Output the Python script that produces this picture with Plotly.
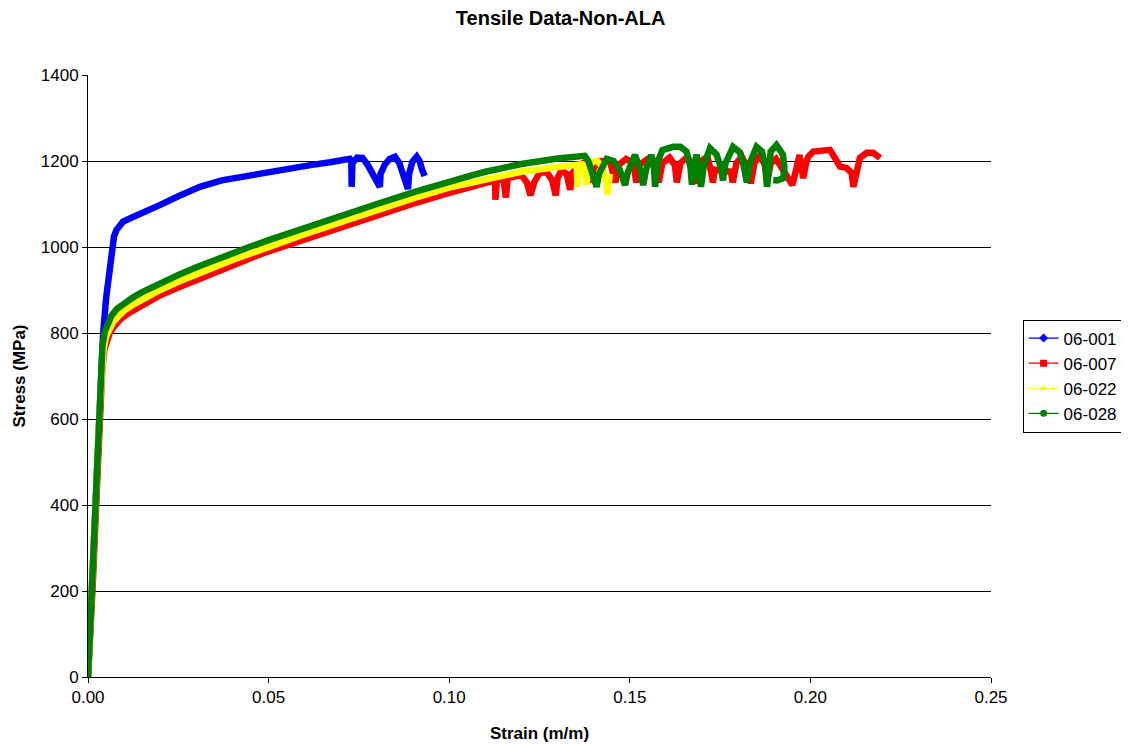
import plotly.graph_objects as go

# ---- data ----
series_names = ["06-001", "06-007", "06-022", "06-028"]
series_colors = ["#0000FF", "#FF0000", "#FFFF00", "#008000"]
series_symbols = ["diamond", "square", "triangle-up", "circle"]

x_001 = [0, 0.0006, 0.0012, 0.002, 0.0028, 0.0036, 0.0042, 0.005, 0.0056, 0.0062, 0.0066, 0.0072,
         0.0079, 0.0088, 0.0097, 0.012, 0.0162, 0.02, 0.025, 0.031, 0.037, 0.044, 0.05, 0.056, 0.062,
         0.067, 0.07, 0.0725, 0.0729, 0.0730, 0.0732, 0.0745, 0.0760, 0.0775, 0.0795, 0.0808, 0.0810,
         0.0822, 0.0835, 0.0850, 0.0862, 0.0875, 0.0886, 0.0889, 0.0898, 0.0910, 0.0918, 0.0925, 0.0932]
y_001 = [0, 120, 250, 420, 580, 720, 800, 880, 925, 965, 1000, 1025,
         1040, 1052, 1059, 1068, 1082, 1098, 1118, 1140, 1155, 1166, 1175, 1184, 1191,
         1197, 1200, 1205, 1200, 1140, 1195, 1208, 1207, 1190, 1160, 1140, 1170,
         1192, 1205, 1210, 1195, 1165, 1135, 1170, 1198, 1210, 1200, 1180, 1165]

x_007 = [0, 0.0007, 0.0014, 0.0021, 0.0028, 0.0034, 0.0039, 0.0045, 0.0052, 0.006, 0.0075, 0.009,
         0.011, 0.0135, 0.016, 0.02, 0.025, 0.03, 0.035, 0.04, 0.045, 0.05, 0.06, 0.07, 0.08, 0.09,
         0.1, 0.105, 0.11, 0.1127, 0.1128, 0.1132, 0.115, 0.1157, 0.1162, 0.12, 0.1215, 0.1225, 0.1235,
         0.125, 0.127, 0.1285, 0.1295, 0.13, 0.131, 0.1325, 0.1335, 0.134, 0.1355, 0.137, 0.1385,
         0.1395, 0.14, 0.142, 0.1445, 0.1455, 0.146, 0.1468, 0.149, 0.151, 0.1518, 0.1525, 0.155,
         0.157, 0.158, 0.159, 0.161, 0.1625, 0.163, 0.164, 0.166, 0.1675, 0.168, 0.169, 0.1715,
         0.1725, 0.173, 0.1735, 0.178, 0.1785, 0.1795, 0.181, 0.1828, 0.1835, 0.1845, 0.186, 0.1875,
         0.188, 0.189, 0.1905, 0.192, 0.1934, 0.195, 0.1962, 0.197, 0.1975, 0.198, 0.1988, 0.1994,
         0.2008, 0.2036, 0.2054, 0.2068, 0.2082, 0.21, 0.2114, 0.2119, 0.2128, 0.2137, 0.2156, 0.2174,
         0.2193]
y_007 = [0, 100, 230, 370, 510, 630, 710, 760, 785, 800, 818, 832,
         845, 858, 870, 888, 906, 924, 941, 957, 974, 990, 1018, 1046, 1074, 1101,
         1126, 1138, 1148, 1155, 1110, 1155, 1160, 1115, 1160, 1167, 1150, 1120, 1150,
         1172, 1175, 1155, 1120, 1160, 1178, 1170, 1133, 1170, 1190, 1195, 1185,
         1150, 1185, 1200, 1200, 1160, 1150, 1190, 1205, 1195, 1150, 1190, 1205,
         1200, 1150, 1195, 1208, 1190, 1150, 1195, 1210, 1180, 1148, 1195, 1210,
         1175, 1150, 1180, 1175, 1150, 1195, 1210, 1180, 1148, 1195, 1212, 1190,
         1150, 1195, 1205, 1185, 1160, 1144, 1185, 1214, 1190, 1160, 1195, 1210,
         1222, 1226, 1226, 1207, 1187, 1184, 1172, 1140, 1175, 1207, 1219, 1219,
         1207]

x_022 = [0, 0.0006, 0.0012, 0.0019, 0.0026, 0.0032, 0.0037, 0.0043, 0.005, 0.006, 0.007, 0.0085,
         0.01, 0.0125, 0.015, 0.02, 0.025, 0.03, 0.035, 0.04, 0.045, 0.05, 0.06, 0.07, 0.08, 0.09,
         0.1, 0.106, 0.11, 0.12, 0.13, 0.1353, 0.1355, 0.1358, 0.1368, 0.1375, 0.138, 0.1385, 0.1395,
         0.141, 0.1425, 0.1435, 0.1438, 0.1442, 0.1445]
y_022 = [0, 100, 220, 360, 500, 620, 700, 760, 792, 812, 826, 840,
         852, 866, 878, 900, 919, 937, 954, 970, 985, 1001, 1030, 1058, 1086, 1113,
         1138, 1150, 1158, 1175, 1186, 1191, 1140, 1185, 1196, 1180, 1145, 1180, 1198,
         1200, 1185, 1150, 1122, 1150, 1170]

x_028 = [0, 0.0005, 0.001, 0.0017, 0.0024, 0.003, 0.0035, 0.004, 0.0047, 0.0055, 0.0065, 0.008,
         0.01, 0.0125, 0.015, 0.02, 0.025, 0.03, 0.035, 0.04, 0.045, 0.05, 0.06, 0.07, 0.08, 0.09,
         0.1, 0.106, 0.11, 0.12, 0.13, 0.1362, 0.1375, 0.1385, 0.1398, 0.1408, 0.1415, 0.1436, 0.1455,
         0.1472, 0.1487, 0.1495, 0.1514, 0.1527, 0.1537, 0.1545, 0.156, 0.1567, 0.157, 0.1578, 0.159,
         0.162, 0.164, 0.1657, 0.1668, 0.1672, 0.1678, 0.1685, 0.1692, 0.1697, 0.1705, 0.1722, 0.174,
         0.1752, 0.1758, 0.1765, 0.1786, 0.1805, 0.1815, 0.1824, 0.1832, 0.1851, 0.1866, 0.1875,
         0.188, 0.1885, 0.189, 0.1906, 0.1924, 0.1928, 0.1925, 0.1908, 0.1897]
y_028 = [0, 100, 220, 360, 500, 620, 710, 770, 805, 825, 840, 856,
         870, 883, 895, 916, 935, 953, 970, 986, 1001, 1016, 1045, 1073, 1100, 1127,
         1153, 1166, 1175, 1193, 1206, 1214, 1212, 1200, 1170, 1140, 1170, 1205, 1200,
         1180, 1144, 1175, 1214, 1185, 1144, 1180, 1214, 1185, 1140, 1200, 1225,
         1233, 1233, 1222, 1185, 1145, 1190, 1215, 1170, 1140, 1190, 1230, 1215,
         1185, 1155, 1195, 1233, 1220, 1190, 1150, 1195, 1233, 1222, 1185,
         1140, 1190, 1222, 1237, 1215, 1185, 1160, 1155, 1156]

x_ticks = [0.00, 0.05, 0.10, 0.15, 0.20, 0.25]
y_ticks = [0, 200, 400, 600, 800, 1000, 1200, 1400]

xs = [x_001, x_007, x_022, x_028]
ys = [y_001, y_007, y_022, y_028]

FONT = "Liberation Sans, Arial, sans-serif"

fig = go.Figure()
for name, color, xv, yv in zip(series_names, series_colors, xs, ys):
    fig.add_trace(go.Scatter(
        x=xv, y=yv, mode="lines", name=name, legendgroup=name, showlegend=False,
        line=dict(color=color, width=6.5), hoverinfo="skip"))

for name, color, sym in zip(series_names, series_colors, series_symbols):
    fig.add_trace(go.Scatter(
        x=[None], y=[None], mode="lines+markers", name=name, legendgroup=name,
        line=dict(color=color, width=1.2),
        marker=dict(color=color, symbol=sym, size=7)))

fig.update_layout(
    width=1121, height=737,
    paper_bgcolor="white", plot_bgcolor="white",
    margin=dict(l=80, r=138, t=67, b=68, autoexpand=False),
    font=dict(family=FONT, size=17, color="black"),
    title=dict(text="<b>Tensile Data-Non-ALA</b>", x=0.493, xanchor="center",
               y=1 - 10 / 737, yanchor="middle", yref="container",
               font=dict(family=FONT, size=20, color="black")),
    legend=dict(x=1.035, xanchor="left", y=0.5, yanchor="middle",
                bordercolor="black", borderwidth=1, bgcolor="white",
                font=dict(family=FONT, size=17, color="black"),
                itemwidth=30, tracegroupgap=0),
    showlegend=True,
)
fig.update_xaxes(
    range=[0, 0.25], tickvals=x_ticks, tickformat=".2f", automargin=False,
    showgrid=False, zeroline=False, showline=True, linecolor="black", linewidth=1,
    ticks="outside", ticklen=5, tickcolor="black",
    tickfont=dict(family=FONT, size=17, color="black"),
    title=dict(text="<b>Strain (m/m)</b>", standoff=20,
               font=dict(family=FONT, size=17, color="black")))
fig.update_yaxes(
    range=[0, 1400], tickvals=y_ticks, automargin=False,
    showgrid=True, gridcolor="black", gridwidth=1, zeroline=False,
    showline=True, linecolor="black", linewidth=1,
    ticks="outside", ticklen=5, tickcolor="black",
    tickfont=dict(family=FONT, size=17, color="black"),
    title=dict(text="<b>Stress (MPa)</b>", standoff=10,
               font=dict(family=FONT, size=17, color="black")))

fig.write_html("out.html")
